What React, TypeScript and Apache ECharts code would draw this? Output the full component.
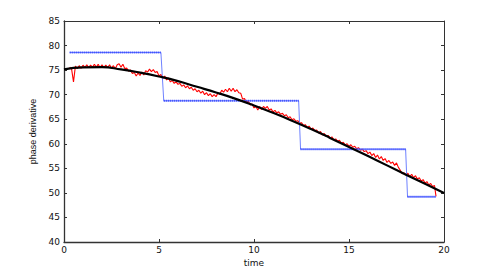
import React, { useEffect, useRef } from "react";
import * as echarts from "echarts";

// black fitted curve, sampled at integer times 0..20
const curveTimes = [0, 1, 2, 3, 4, 5, 6, 7, 8, 9, 10, 11, 12, 13, 14, 15, 16, 17, 18, 19, 20];
const curveValues = [75.15, 75.55, 75.6, 75.15, 74.5, 73.7, 72.75, 71.6, 70.45, 69.2, 67.8, 66.3, 64.7, 63.0, 61.2, 59.35, 57.5, 55.6, 53.7, 51.85, 50.0];

// red measured phase derivative, sampled every 0.1 from t = 0.3
const redStart = 0.3;
const redStep = 0.1;
const redValues = [
  75.6, 75.2, 72.6, 75.8, 75.3, 75.9, 75.4, 76.0, 75.5, 76.1,
  75.5, 76.0, 75.6, 76.2, 75.6, 76.2, 75.5, 76.1, 75.5, 76.0,
  75.5, 76.1, 75.4, 75.9, 75.3, 76.1, 76.3, 75.6, 76.2, 75.3,
  75.4, 74.8, 75.0, 74.3, 74.5, 73.8, 74.4, 73.9, 74.6, 74.0,
  74.9, 74.6, 75.2, 74.7, 75.1, 74.5, 74.7, 73.8, 74.1, 73.3,
  73.8, 73.0, 73.4, 72.6, 72.9, 72.3, 72.6, 72.1, 72.3, 71.7,
  72.0, 71.4, 71.8, 71.2, 71.5, 70.9, 71.2, 70.6, 70.9, 70.3,
  70.7, 70.0, 70.4, 69.8, 70.2, 69.6, 70.0, 69.6, 70.3, 70.1,
  70.9, 70.5, 71.1, 70.6, 71.3, 70.7, 71.3, 70.6, 71.0, 70.4,
  70.3, 69.1, 69.2, 68.4, 68.7, 67.9, 68.1, 67.3, 67.6, 66.9,
  67.6, 67.0, 67.6, 67.2, 67.6, 66.9, 67.1, 66.5, 66.8, 66.3,
  66.5, 66.0, 66.2, 65.7, 65.9, 65.3, 65.5, 64.9, 65.1, 64.6,
  64.7, 64.2, 64.3, 63.7, 63.9, 63.3, 63.6, 63.0, 63.2, 62.7,
  62.8, 62.2, 62.5, 61.8, 62.1, 61.5, 61.7, 61.2, 61.4, 60.8,
  61.0, 60.5, 60.7, 60.1, 60.3, 59.8, 60.0, 59.5, 59.8, 59.3,
  59.5, 59.0, 59.2, 58.7, 58.9, 58.4, 58.6, 58.0, 58.3, 57.6,
  58.0, 57.2, 57.7, 56.9, 57.4, 56.6, 57.0, 56.2, 56.6, 56.0,
  56.3, 55.6, 56.1, 55.2, 54.6, 53.9, 54.1, 53.6, 54.0, 53.3,
  53.8, 53.1, 53.5, 52.8, 53.1, 52.4, 52.7, 52.0, 52.3, 51.6,
  51.9, 51.3, 51.5,
];
const redEnd: [number, number] = [19.58, 49.3];

// blue piecewise-constant estimate
const blueStarts = [0.3, 5.25, 12.45, 18.08];
const blueEnds = [5.1, 12.35, 17.98, 19.58];
const blueLevels = [78.6, 68.75, 58.9, 49.2];

const xTicks = { min: 0, max: 20, interval: 5 };
const yTicks = { min: 40, max: 85, interval: 5 };

export default function App() {
  const ref = useRef<HTMLDivElement>(null);
  useEffect(() => {
    document.body.style.margin = "0";
    if (!ref.current) return;
    const chart = echarts.init(ref.current, undefined, { renderer: "svg" });

    const curve = curveTimes.map((t, i) => [t, curveValues[i]]);
    const red: any[] = redValues.map((v, i) => [+(redStart + i * redStep).toFixed(2), v]);
    red.push(redEnd);
    const blueStepLine: any[] = [];
    const blueDots: any[] = [];
    blueLevels.forEach((lv, i) => {
      blueStepLine.push([blueStarts[i], lv], [blueEnds[i], lv]);
      blueDots.push([blueStarts[i], lv], [blueEnds[i], lv], [null, null]);
    });

    const tickFont = { fontFamily: "DejaVu Sans", fontSize: 9, color: "#111" };
    const lineCol = "#333";

    chart.setOption({
      animation: false,
      backgroundColor: "#fff",
      grid: { left: 64, top: 21, right: 47, bottom: 31, containLabel: false },
      xAxis: [
        {
          type: "value",
          position: "bottom",
          ...xTicks,
          name: "time",
          nameLocation: "middle",
          nameGap: 13,
          nameTextStyle: { fontFamily: "DejaVu Sans", fontSize: 9, color: "#111" },
          axisLine: { show: true, onZero: false, lineStyle: { color: lineCol, width: 1.3 } },
          axisTick: { show: true, inside: true, length: 3, lineStyle: { color: lineCol } },
          axisLabel: { ...tickFont, margin: 3 },
          splitLine: { show: false },
        },
        {
          type: "value",
          position: "top",
          ...xTicks,
          axisLine: { show: true, onZero: false, lineStyle: { color: lineCol, width: 1 } },
          axisTick: { show: true, inside: true, length: 3, lineStyle: { color: lineCol } },
          axisLabel: { show: false },
          splitLine: { show: false },
        },
      ],
      yAxis: [
        {
          type: "value",
          position: "left",
          ...yTicks,
          name: "phase derivative",
          nameLocation: "middle",
          nameRotate: 90,
          nameGap: 21,
          nameTextStyle: { fontFamily: "Liberation Sans", fontSize: 9, color: "#111" },
          axisLine: { show: true, onZero: false, lineStyle: { color: lineCol, width: 1.3 } },
          axisTick: { show: true, inside: true, length: 3, lineStyle: { color: lineCol } },
          axisLabel: { ...tickFont, margin: 4 },
          splitLine: { show: false },
        },
        {
          type: "value",
          position: "right",
          ...yTicks,
          axisLine: { show: true, onZero: false, lineStyle: { color: lineCol, width: 1 } },
          axisTick: { show: true, inside: true, length: 3, lineStyle: { color: lineCol } },
          axisLabel: { show: false },
          splitLine: { show: false },
        },
      ],
      series: [
        {
          type: "line",
          data: red,
          showSymbol: false,
          lineStyle: { color: "#ff0000", width: 1.1 },
          z: 2,
        },
        {
          type: "line",
          data: blueStepLine,
          showSymbol: false,
          lineStyle: { color: "#6f82ff", width: 1 },
          z: 3,
        },
        {
          type: "line",
          data: blueDots,
          showSymbol: false,
          connectNulls: false,
          lineStyle: { color: "#2a3cff", width: 2, type: [1, 1] },
          z: 3,
        },
        {
          type: "line",
          data: curve,
          smooth: true,
          showSymbol: false,
          lineStyle: { color: "#000", width: 2.2 },
          z: 4,
        },
      ],
    });
    return () => chart.dispose();
  }, []);
  return <div ref={ref} style={{ width: 491, height: 273 }} />;
}
